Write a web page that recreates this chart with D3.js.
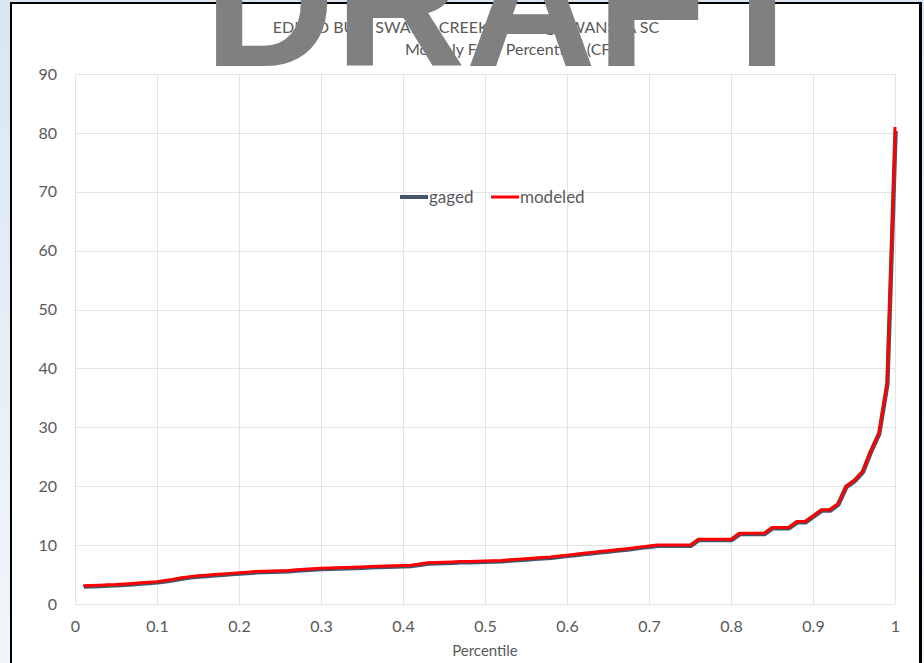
<!DOCTYPE html>
<html>
<head>
<meta charset="utf-8">
<script src="https://cdn.jsdelivr.net/npm/d3@7"></script>
<style>
  html, body { margin: 0; padding: 0; background: #fff; }
  svg { display: block; }
  text { font-family: Lato, "Open Sans", sans-serif; fill: #595959; }
</style>
</head>
<body>
<div id="chart"></div>
<script>
// percentile positions and flows (cfs)
const percentiles = [
  0.01, 0.02, 0.03, 0.04, 0.05, 0.06, 0.07, 0.08, 0.09, 0.10,
  0.11, 0.12, 0.13, 0.14, 0.15, 0.16, 0.17, 0.18, 0.19, 0.20,
  0.21, 0.22, 0.23, 0.24, 0.25, 0.26, 0.27, 0.28, 0.29, 0.30,
  0.31, 0.32, 0.33, 0.34, 0.35, 0.36, 0.37, 0.38, 0.39, 0.40,
  0.41, 0.42, 0.43, 0.44, 0.45, 0.46, 0.47, 0.48, 0.49, 0.50,
  0.51, 0.52, 0.53, 0.54, 0.55, 0.56, 0.57, 0.58, 0.59, 0.60,
  0.61, 0.62, 0.63, 0.64, 0.65, 0.66, 0.67, 0.68, 0.69, 0.70,
  0.71, 0.72, 0.73, 0.74, 0.75, 0.76, 0.77, 0.78, 0.79, 0.80,
  0.81, 0.82, 0.83, 0.84, 0.85, 0.86, 0.87, 0.88, 0.89, 0.90,
  0.91, 0.92, 0.93, 0.94, 0.95, 0.96, 0.97, 0.98, 0.99, 1.00
];

const gaged = [
  3.1, 3.15, 3.2, 3.25, 3.3, 3.4, 3.5, 3.6, 3.7, 3.8,
  4.0, 4.2, 4.45, 4.65, 4.8, 4.9, 5.0, 5.1, 5.2, 5.3,
  5.4, 5.5, 5.55, 5.6, 5.65, 5.7, 5.8, 5.9, 6.0, 6.05,
  6.1, 6.15, 6.2, 6.25, 6.3, 6.35, 6.4, 6.45, 6.5, 6.55,
  6.6, 6.8, 7.0, 7.05, 7.1, 7.15, 7.2, 7.2, 7.25, 7.3,
  7.35, 7.4, 7.5, 7.6, 7.7, 7.8, 7.9, 8.0, 8.15, 8.3,
  8.45, 8.6, 8.75, 8.9, 9.05, 9.2, 9.35, 9.5, 9.7, 9.85,
  10, 10, 10, 10, 10, 11, 11, 11, 11, 11,
  12, 12, 12, 12, 13, 13, 13, 14, 14, 15,
  16, 16, 17, 20, 21, 22.5, 26, 29, 37.5, 80.5
];

const modeled = [
  3.1, 3.15, 3.2, 3.25, 3.3, 3.4, 3.5, 3.6, 3.7, 3.8,
  4.0, 4.2, 4.45, 4.65, 4.8, 4.9, 5.0, 5.1, 5.2, 5.3,
  5.4, 5.5, 5.55, 5.6, 5.65, 5.7, 5.8, 5.9, 6.0, 6.05,
  6.1, 6.15, 6.2, 6.25, 6.3, 6.35, 6.4, 6.45, 6.5, 6.55,
  6.6, 6.8, 7.0, 7.05, 7.1, 7.15, 7.2, 7.2, 7.25, 7.3,
  7.35, 7.4, 7.5, 7.6, 7.7, 7.8, 7.9, 8.0, 8.15, 8.3,
  8.45, 8.6, 8.75, 8.9, 9.05, 9.2, 9.35, 9.5, 9.7, 9.85,
  10, 10, 10, 10, 10, 11, 11, 11, 11, 11,
  12, 12, 12, 12, 13, 13, 13, 14, 14, 15,
  16, 16, 17, 20, 21, 22.5, 26, 29, 37.5, 81
];

const xTicks = [0, 0.1, 0.2, 0.3, 0.4, 0.5, 0.6, 0.7, 0.8, 0.9, 1];
const yTicks = [0, 10, 20, 30, 40, 50, 60, 70, 80, 90];

const titleLines = [
  "EDISTO BULL SWAMP CREEK FLOW @ SWANSEA SC",
  "Monthly Flow Percentiles (CFS)"
];
const seriesNames = ["gaged", "modeled"];
const seriesColors = ["#44546A", "#FF0000"];

const width = 924, height = 663;
const margin = { top: 74, right: 29, bottom: 59, left: 75 };

const svg = d3.select('#chart')
    .append('svg')
    .attr('width', width)
    .attr('height', height);

// page background strip (left / top) with soft blue gradient
const defs = svg.append('defs');
const bgGrad = defs.append('linearGradient')
    .attr('id', 'bg-grad')
    .attr('x1', '0%').attr('y1', '0%')
    .attr('x2', '0%').attr('y2', '100%');
bgGrad.append('stop').attr('offset', '0%').attr('stop-color', '#d9e6f2');
bgGrad.append('stop').attr('offset', '100%').attr('stop-color', '#f2f6fa');

svg.append('rect')
    .attr('width', width).attr('height', height)
    .style('fill', 'url(#bg-grad)');

// chart area with black frame
svg.append('rect')
    .attr('x', 11).attr('y', 3)
    .attr('width', 909).attr('height', 680)
    .style('fill', '#ffffff')
    .style('stroke', '#000')
    .style('stroke-width', 2);
svg.append('line')
    .attr('x1', 921).attr('x2', 921)
    .attr('y1', 2).attr('y2', height)
    .style('stroke', '#000')
    .style('stroke-width', 2);

const x = d3.scaleLinear()
    .domain([0, 1])
    .range([margin.left, width - margin.right]);
const y = d3.scaleLinear()
    .domain([0, 90])
    .range([height - margin.bottom, margin.top]);

// gridlines
const grid = svg.append('g').attr('class', 'grid');
grid.selectAll('line.h')
    .data(yTicks)
    .enter()
    .append('line')
    .attr('x1', x(0)).attr('x2', x(1))
    .attr('y1', d => Math.round(y(d)) + 0.5)
    .attr('y2', d => Math.round(y(d)) + 0.5)
    .style('stroke', '#e3e3e3')
    .style('stroke-width', 1);
grid.selectAll('line.v')
    .data(xTicks)
    .enter()
    .append('line')
    .attr('y1', y(0)).attr('y2', y(90))
    .attr('x1', d => Math.round(x(d)) + 0.5)
    .attr('x2', d => Math.round(x(d)) + 0.5)
    .style('stroke', '#e3e3e3')
    .style('stroke-width', 1);

// axes (labels only, lines are the gridlines)
const xAxis = svg.append('g')
    .attr('transform', `translate(0, ${y(0)})`)
    .call(d3.axisBottom(x).tickValues(xTicks).tickSize(0).tickPadding(17)
        .tickFormat(d => d === 0 ? '0' : d === 1 ? '1' : d3.format('.1f')(d)));
xAxis.select('.domain').remove();
xAxis.selectAll('text').style('font-size', '16px').style('fill', '#595959');

const yAxis = svg.append('g')
    .attr('transform', `translate(${x(0)}, 0)`)
    .call(d3.axisLeft(y).tickValues(yTicks).tickSize(0).tickPadding(18));
yAxis.select('.domain').remove();
yAxis.selectAll('text').style('font-size', '16px').style('fill', '#595959');

svg.append('text')
    .attr('x', (x(0) + x(1)) / 2)
    .attr('y', 656)
    .attr('text-anchor', 'middle')
    .style('font-size', '15px')
    .text('Percentile');

// lines
const line = vals => d3.line()
    .x((d, i) => x(percentiles[i]))
    .y(d => y(d))(vals);

svg.append('path')
    .attr('d', line(gaged))
    .attr('transform', 'translate(0.8, 1)')
    .style('fill', 'none')
    .style('stroke', seriesColors[0])
    .style('stroke-width', 4)
    .style('stroke-linejoin', 'round');

svg.append('path')
    .attr('d', line(modeled))
    .style('fill', 'none')
    .style('stroke', seriesColors[1])
    .style('stroke-width', 3)
    .style('stroke-linejoin', 'round');

// legend
const legendItems = [
  { name: seriesNames[0], color: seriesColors[0], x: 400, w: 4 },
  { name: seriesNames[1], color: seriesColors[1], x: 491, w: 3 }
];
const legend = svg.append('g').attr('class', 'legend');
legendItems.forEach(it => {
    legend.append('line')
        .attr('x1', it.x).attr('x2', it.x + 28)
        .attr('y1', 197).attr('y2', 197)
        .style('stroke', it.color)
        .style('stroke-width', it.w);
    legend.append('text')
        .attr('x', it.x + 29)
        .attr('y', 203)
        .style('font-size', '17px')
        .text(it.name);
});

// title (second line sits a little right of the first, as in the source)
const titleX = [466, 514];
svg.selectAll('text.title')
    .data(titleLines)
    .enter()
    .append('text')
    .attr('class', 'title')
    .attr('x', (d, i) => titleX[i])
    .attr('y', (d, i) => 33 + i * 22)
    .attr('text-anchor', 'middle')
    .style('font-size', '16px')
    .text(d => d);

// DRAFT watermark on top of everything
svg.append('text')
    .attr('x', 204)
    .attr('y', 66)
    .style('font-family', '"Liberation Sans", Arial, sans-serif')
    .style('font-weight', 'bold')
    .style('font-size', '181px')
    .style('fill', '#808080')
    .text('DRAFT');
</script>
</body>
</html>
